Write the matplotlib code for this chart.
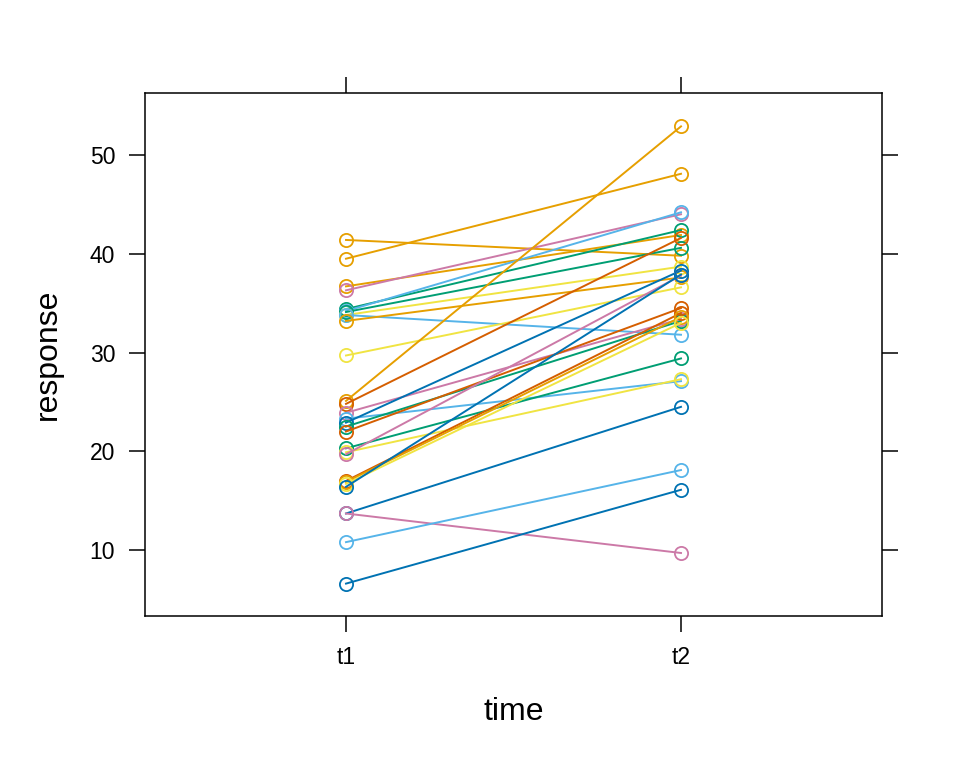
import numpy as np
import matplotlib.pyplot as plt

plt.rcParams['font.family'] = ['Liberation Sans', 'DejaVu Sans']

# Okabe-Ito colours (as in the lattice theme)
palette = {
    'orange': '#E69F00', 'sky': '#56B4E9', 'green': '#009E73',
    'yellow': '#F0E442', 'blue': '#0072B2', 'verm': '#D55E00',
    'pink': '#CC79A7',
}

times = ['t1', 't2']

# one entry per subject: response at t1, response at t2, group colour
resp_t1 = [41.4, 39.5, 36.7, 36.3, 34.4, 34.2, 34.1, 33.8, 33.8, 33.2,
           29.7, 25.1, 24.8, 23.9, 23.3, 22.9, 22.5, 22.0, 20.3, 19.9,
           19.7, 17.0, 16.9, 16.7, 16.4, 13.7, 13.7, 10.8, 6.6]
resp_t2 = [39.8, 48.1, 41.9, 44.0, 42.4, 44.2, 40.6, 38.7, 31.8, 37.6,
           36.6, 52.9, 41.6, 33.4, 27.1, 38.3, 33.2, 34.5, 29.4, 27.3,
           37.8, 34.0, 33.6, 33.0, 37.9, 24.5, 9.7, 18.1, 16.1]
subj_col = ['orange', 'orange', 'orange', 'pink', 'green', 'sky', 'green', 'yellow', 'sky', 'orange',
            'yellow', 'orange', 'verm', 'pink', 'sky', 'blue', 'green', 'verm', 'green', 'yellow',
            'pink', 'verm', 'orange', 'yellow', 'blue', 'blue', 'pink', 'sky', 'blue']

fig = plt.figure(figsize=(9.6, 7.68), dpi=100)
ax = fig.add_axes([145/960, 1-616/768, (882-145)/960, (616-93)/768])

xpos = np.arange(1, len(times) + 1)
for a, b, c in zip(resp_t1, resp_t2, subj_col):
    ax.plot(xpos, [a, b], color=palette[c], lw=1.4, marker='o', ms=9.5,
            mfc='none', mec=palette[c], mew=1.3)

ax.set_xlim(0.4, 2.6)
ax.set_ylim(3.32, 56.28)
ax.set_xticks(xpos)
ax.set_xticklabels(times)
ax.set_yticks([10, 20, 30, 40, 50])
ax.tick_params(axis='both', which='both', direction='out', length=11.5, width=1.1,
               labelsize=16.5, pad=10, top=True, right=True,
               labeltop=False, labelright=False)
for s in ax.spines.values():
    s.set_linewidth(1.1)

ax.set_xlabel('time', fontsize=23, labelpad=20)
ax.set_ylabel('response', fontsize=23, labelpad=19)

fig.savefig('out.png', dpi=100)
